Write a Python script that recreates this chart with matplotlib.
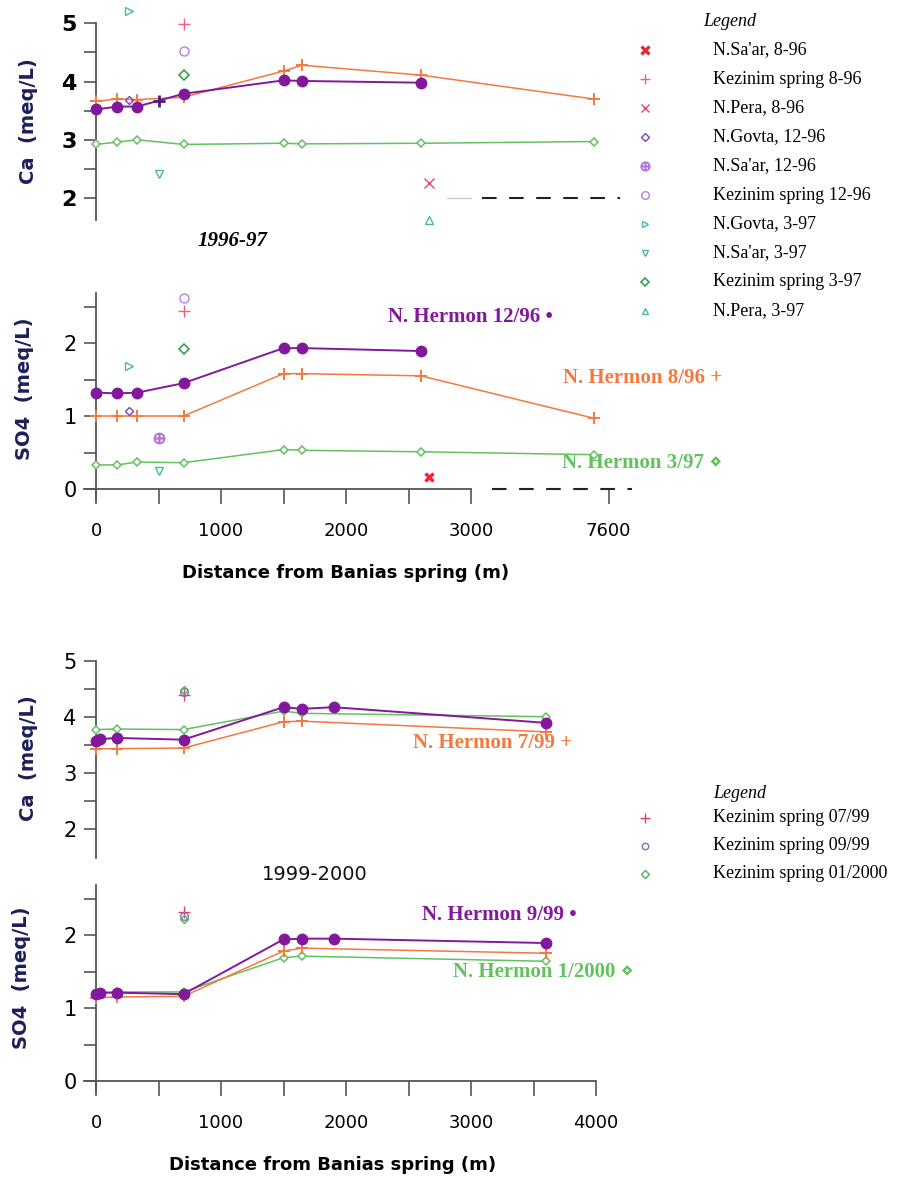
import numpy as np
import matplotlib
matplotlib.use('Agg')
import matplotlib.pyplot as plt

W, H = 899, 1186
nan = np.nan

# ---- 1996-97, Banias main stem ----
dist_96 = [0, 170, 330, 700, 1500, 1650, 2600, 7600]
ca_aug96 = [3.66, 3.70, 3.69, 3.73, 4.18, 4.28, 4.11, 3.70]
ca_dec96 = [3.52, 3.57, 3.57, 3.79, 4.02, 4.01, 3.98]
ca_mar97 = [2.92, 2.96, 3.00, 2.92, 2.94, 2.93, 2.94, 2.97]
so4_aug96 = [1.00, 1.00, 1.00, 1.00, 1.58, 1.58, 1.55, 0.97]
so4_dec96 = [1.32, 1.31, 1.32, 1.45, 1.93, 1.93, 1.89]
so4_mar97 = [0.33, 0.33, 0.37, 0.36, 0.54, 0.53, 0.51, 0.47]

# ---- 1996-97 tributaries / springs ----
trib_names = ["N.Sa'ar, 8-96", "Kezinim spring 8-96", "N.Pera, 8-96",
              "N.Govta, 12-96", "N.Sa'ar, 12-96", "Kezinim spring 12-96",
              "N.Govta, 3-97", "N.Sa'ar, 3-97", "Kezinim spring 3-97",
              "N.Pera, 3-97"]
trib_dist = [2660, 700, 2660, 265, 500, 700, 260, 500, 700, 2660]
trib_ca = [nan, 4.99, 2.25, 3.68, 3.66, 4.53, 5.21, 2.42, 4.12, 1.63]
trib_so4 = [0.16, 2.44, nan, 1.07, 0.70, 2.62, 1.69, 0.25, 1.92, nan]

# ---- 1999-2000, Banias main stem ----
dist_sep99 = [0, 30, 170, 700, 1500, 1650, 1900, 3600]
ca_sep99 = [3.57, 3.60, 3.62, 3.59, 4.17, 4.14, 4.17, 3.89]
so4_sep99 = [1.19, 1.21, 1.21, 1.19, 1.94, 1.95, 1.95, 1.89]
dist_99 = [0, 170, 700, 1500, 1650, 3600]
ca_jul99 = [3.43, 3.43, 3.44, 3.91, 3.92, 3.73]
so4_jul99 = [1.14, 1.15, 1.16, 1.78, 1.82, 1.75]
ca_jan00 = [3.77, 3.78, 3.77, 4.10, 4.06, 4.00]
so4_jan00 = [1.21, 1.22, 1.22, 1.69, 1.71, 1.64]

kez_names = ['Kezinim spring 07/99', 'Kezinim spring 09/99', 'Kezinim spring 01/2000']
kez_dist = [700, 700, 700]
kez_ca = [4.39, 4.45, 4.47]
kez_so4 = [2.32, 2.26, 2.22]

# styles
ORANGE = '#f5793f'
PURPLE = '#82189c'
GREEN = '#62c25e'
trib_style = [('x', '#e8283a', 6, 2.4), ('+', '#f0607a', 8, 1.0), ('x', '#e8407a', 7, 1.0),
              ('D', '#8040c0', 4.5, 1.0), ('$\\oplus$', '#b070d8', 8, 0.5), ('o', '#b880e0', 6.5, 1.0),
              ('>', '#4cb8a0', 5.5, 1.0), ('v', '#4cb8a0', 5.5, 1.0), ('D', '#3a9e50', 5, 1.2),
              ('^', '#4cb8a0', 5.5, 1.0)]
kez_style = [('+', '#e8405e', 8, 1.0), ('o', '#8070c0', 5.5, 1.0), ('D', '#50b060', 4.5, 1.0)]

BREAK_X = 3980   # plotted position of the 7600 m station after the axis break
SPINE = '#555555'
NAVY = '#1e1e5a'
SERIF = ['Liberation Serif', 'DejaVu Serif', 'DejaVu Sans']


def xpos(d):
    # only the far 7600 m station sits beyond the axis break
    return [BREAK_X if v > 5000 else v for v in d]


fig = plt.figure(figsize=(W / 100, H / 100), dpi=100)
fig.patch.set_facecolor('white')


def px_axes(left, top, right, bottom):
    return fig.add_axes([left / W, 1 - bottom / H, (right - left) / W, (bottom - top) / H])


X_LEFT = 96 - 100 * 0.125
axA = px_axes(X_LEFT, 23.3 - 0.4 * 58.3, 96 + 4350 * 0.125, 198 + 0.5 * 58.3)
axB = px_axes(X_LEFT, 489 - 2.75 * 73, 96 + 4350 * 0.125, 489 + 0.2 * 73)
axC = px_axes(X_LEFT, 660.7 - 0.1 * 56, 96 + 4350 * 0.125, 660.7 + 3.55 * 56)
axD = px_axes(X_LEFT, 1081 - 2.75 * 73, 96 + 4350 * 0.125, 1081 + 0.2 * 73)

axA.set_ylim(1.5, 5.4)
axB.set_ylim(-0.2, 2.75)
axC.set_ylim(1.45, 5.1)
axD.set_ylim(-0.2, 2.75)

for ax in (axA, axB, axC, axD):
    ax.set_xlim(-100, 4350)
    ax.patch.set_alpha(0)
    for s in ('top', 'right'):
        ax.spines[s].set_visible(False)
    ax.spines['left'].set_position(('data', 0))
    ax.spines['left'].set_color(SPINE)
    ax.spines['left'].set_linewidth(1.3)
    ax.tick_params(axis='y', which='both', direction='out', length=9, width=1.2,
                   color=SPINE, labelsize=15, pad=5)
    ax.tick_params(axis='x', which='both', direction='out', length=11, width=1.2,
                   color=SPINE, labelsize=13, pad=13)

for ax in (axA, axC):
    ax.set_yticks([2, 3, 4, 5])
    ax.set_yticks([2.5, 3.5, 4.5], minor=True)
    ax.spines['bottom'].set_visible(False)
    ax.set_xticks([])
axA.spines['left'].set_bounds(1.62, 5.0)
axC.spines['left'].set_bounds(1.48, 5.0)
axA.tick_params(axis='y', labelsize=16)
for lab in axA.get_yticklabels():
    lab.set_fontweight('bold')

for ax in (axB, axD):
    ax.set_yticks([0, 1, 2])
    ax.set_yticks([0.5, 1.5, 2.5], minor=True)
    ax.spines['left'].set_bounds(-0.15, 2.68)
    ax.spines['bottom'].set_position(('data', 0))
    ax.spines['bottom'].set_color(SPINE)
    ax.spines['bottom'].set_linewidth(1.3)

axB.spines['bottom'].set_bounds(-100, 3000)
axB.set_xticks([0, 1000, 2000, 3000, 4100])
axB.set_xticklabels(['0', '1000', '2000', '3000', '7600'])
axB.set_xticks([500, 1500, 2500], minor=True)
axD.spines['bottom'].set_bounds(-100, 4000)
axD.set_xticks([0, 1000, 2000, 3000, 4000])
axD.set_xticks([500, 1500, 2500, 3500], minor=True)

# axis breaks (dashed)
axA.plot([2810, 3000], [2.0, 2.0], color='#cccccc', lw=1.0)
axA.plot([3090, 4190], [2.0, 2.0], color='#222222', lw=1.5, dashes=(7, 6))
axB.plot([3170, 4290], [0, 0], color='#222222', lw=1.5, dashes=(7, 6), clip_on=False)


def mainline(ax, d, v, kind):
    if kind == 'purple':
        ax.plot(xpos(d), v, color=PURPLE, lw=1.4, marker='o', ms=7.5, mfc=PURPLE, mec=PURPLE, zorder=4)
    elif kind == 'orange':
        ax.plot(xpos(d), v, color=ORANGE, lw=1.1, marker='+', ms=9, mew=1.4, zorder=3)
    else:
        ax.plot(xpos(d), v, color=GREEN, lw=1.1, marker='D', ms=4.5, mfc='white', mec=GREEN, mew=1.1, zorder=3)


mainline(axA, dist_96, ca_mar97, 'green')
mainline(axA, dist_96, ca_aug96, 'orange')
mainline(axA, dist_96[:len(ca_dec96)], ca_dec96, 'purple')
mainline(axB, dist_96, so4_mar97, 'green')
mainline(axB, dist_96, so4_aug96, 'orange')
mainline(axB, dist_96[:len(so4_dec96)], so4_dec96, 'purple')

mainline(axC, dist_99, ca_jul99, 'orange')
mainline(axC, dist_99, ca_jan00, 'green')
mainline(axC, dist_sep99, ca_sep99, 'purple')
mainline(axD, dist_99, so4_jan00, 'green')
mainline(axD, dist_99, so4_jul99, 'orange')
mainline(axD, dist_sep99, so4_sep99, 'purple')


def point(ax, x, y, st):
    m, c, s, w = st
    if m in ('x', '+') or m.startswith('$'):
        ax.plot(x, y, linestyle='none', marker=m, ms=s, mew=w, color=c, clip_on=False, zorder=5)
    else:
        ax.plot(x, y, linestyle='none', marker=m, ms=s, mew=w, mfc='none', mec=c, clip_on=False, zorder=5)


for i in range(len(trib_names)):
    st = trib_style[i]
    if not np.isnan(trib_ca[i]):
        if trib_names[i] == "N.Sa'ar, 12-96":
            point(axA, trib_dist[i], trib_ca[i], ('+', '#4b1b8a', 8, 2.0))
        else:
            point(axA, trib_dist[i], trib_ca[i], st)
    if not np.isnan(trib_so4[i]):
        point(axB, trib_dist[i], trib_so4[i], st)

for i in range(len(kez_names)):
    point(axC, kez_dist[i], kez_ca[i], kez_style[i])
    point(axD, kez_dist[i], kez_so4[i], kez_style[i])

# overlay axes in pixel coordinates for texts and legends
ov = fig.add_axes([0, 0, 1, 1], zorder=-1)
ov.set_xlim(0, W)
ov.set_ylim(H, 0)
ov.axis('off')

# y labels
for (x, y, t) in [(28, 121, 'Ca  (meq/L)'), (24, 389, 'SO4  (meq/L)'),
                  (28, 758, 'Ca  (meq/L)'), (22, 978, 'SO4  (meq/L)')]:
    ov.text(x, y, t, rotation=90, ha='center', va='center', fontsize=14,
            fontweight='bold', color=NAVY)

ov.text(346, 573, 'Distance from Banias spring (m)', ha='center', va='center',
        fontsize=13, fontweight='bold', color='black')
ov.text(333, 1165, 'Distance from Banias spring (m)', ha='center', va='center',
        fontsize=13, fontweight='bold', color='black')

ov.text(233, 241, '1996-97', ha='center', va='center', fontsize=15,
        fontweight='bold', fontstyle='italic', family=SERIF)
ov.text(315, 875, '1999-2000', ha='center', va='center', fontsize=14, color='#111111')

labels = [(388, 317, 'N. Hermon 12/96 \u2022', PURPLE),
          (563, 378, 'N. Hermon 8/96 +', ORANGE),
          (562, 463, 'N. Hermon 3/97 \u22c4', GREEN),
          (413, 743, 'N. Hermon 7/99 +', ORANGE),
          (422, 915, 'N. Hermon 9/99 \u2022', PURPLE),
          (453, 972, 'N. Hermon 1/2000 \u22c4', GREEN)]
for (x, y, t, c) in labels:
    ov.text(x, y, t, ha='left', va='center', fontsize=15, fontweight='bold',
            color=c, family=SERIF)

# legend 1996-97
ov.text(703, 22, 'Legend', ha='left', va='center', fontsize=13, fontstyle='italic', family=SERIF)
for i, name in enumerate(trib_names):
    y = 50 + 29.0 * i
    m, c, s, w = trib_style[i]
    point(ov, 645, y, (m, c, s * 0.85, w))
    ov.text(713, y, name, ha='left', va='center', fontsize=13, family=SERIF)

# legend 1999-2000
ov.text(713, 793, 'Legend', ha='left', va='center', fontsize=13, fontstyle='italic', family=SERIF)
for i, name in enumerate(kez_names):
    y = 818 + 28.0 * i
    m, c, s, w = kez_style[i]
    point(ov, 645, y, (m, c, s * 0.85, w))
    ov.text(713, y, name, ha='left', va='center', fontsize=13, family=SERIF)

fig.savefig('out.png', dpi=100, facecolor='white')
